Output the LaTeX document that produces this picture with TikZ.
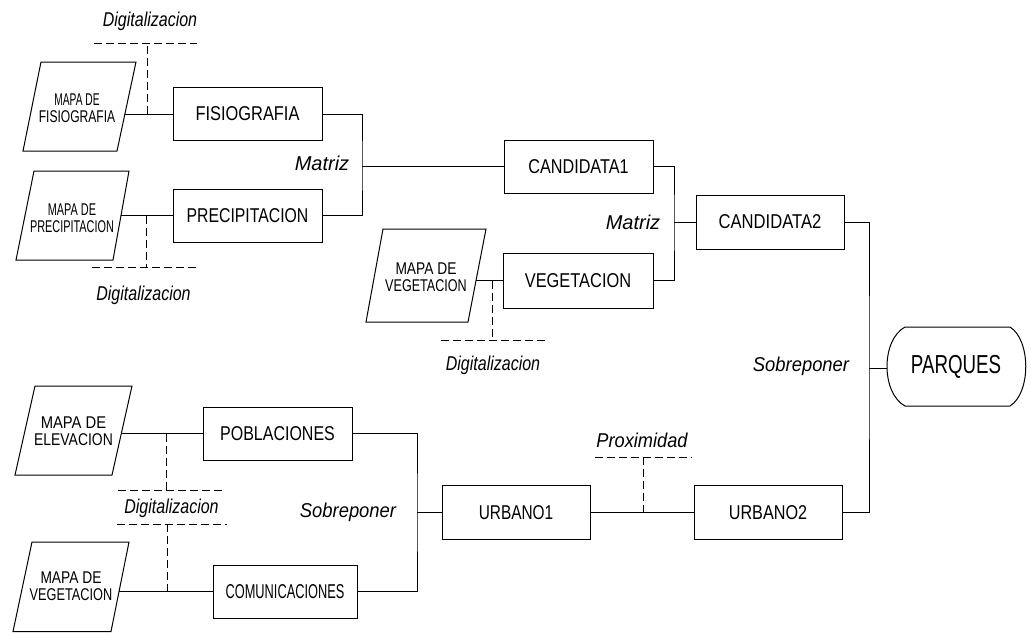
\documentclass[tikz,border=0pt]{standalone}
\usepackage{fontspec}
\setmainfont{Liberation Sans}
\newcommand\sq[2]{\scalebox{#1}[1]{#2}}
\tikzset{
  ln/.style={line width=1pt},
  dsh/.style={line width=1pt, dash pattern=on 8pt off 4pt},
  box/.style={draw, line width=1pt, minimum width=149pt, minimum height=53pt, inner sep=0pt, font=\fontsize{20}{20}\selectfont},
  lbl/.style={font=\fontsize{20}{20}\selectfont\itshape, inner sep=0pt},
  maptxt/.style={align=center, font=\fontsize{17}{17}\selectfont, inner sep=0pt},
}
\begin{document}
\begin{tikzpicture}[x=1pt,y=-1pt]
\useasboundingbox (0,0) rectangle (1031,633);

% ---- input maps (parallelograms) ----
\draw[ln] (41,62) -- (136,62) -- (117,151) -- (23,151) -- cycle;
\node[maptxt] (mapF) at (77,108) {\sq{0.6}{MAPA DE}\\\sq{0.71}{FISIOGRAFIA}};
\coordinate (mapFr) at (124.9,114);

\draw[ln] (34,171) -- (129,171) -- (113,260) -- (16,260) -- cycle;
\node[maptxt] (mapP) at (72,218) {\sq{0.64}{MAPA DE}\\\sq{0.64}{PRECIPITACION}};
\coordinate (mapPr) at (121,215.5);

\draw[ln] (383,229) -- (486,229) -- (468,322) -- (366,322) -- cycle;
\node[maptxt] (mapV) at (426,277.5) {\sq{0.81}{MAPA DE}\\\sq{0.74}{VEGETACION}};
\coordinate (mapVr) at (476,280.5);

\draw[ln] (35,386) -- (132,386) -- (112,475) -- (15,475) -- cycle;
\node[maptxt] (mapE) at (73.5,431.5) {\sq{0.87}{MAPA DE}\\\sq{0.82}{ELEVACION}};
\coordinate (mapEr) at (121.3,433.5);

\draw[ln] (32,542) -- (129,542) -- (111,631.5) -- (13,631.5) -- cycle;
\node[maptxt] (mapV2) at (71,586) {\sq{0.81}{MAPA DE}\\\sq{0.75}{VEGETACION}};
\coordinate (mapV2r) at (119.1,591.5);

% ---- process boxes ----
\node[box] (fis) at (247.5,114) {\sq{0.82}{FISIOGRAFIA}};
\node[box] (pre) at (247.5,215.5) {\sq{0.79}{PRECIPITACION}};
\node[box] (cand1) at (578.5,166.5) {\sq{0.81}{CANDIDATA1}};
\node[box, minimum width=150pt, minimum height=55pt] (veg) at (578,280.5) {\sq{0.82}{VEGETACION}};
\node[box, minimum width=148pt, minimum height=54pt] (cand2) at (770,222) {\sq{0.83}{CANDIDATA2}};
\node[box] (pob) at (277.5,433.5) {\sq{0.8}{POBLACIONES}};
\node[box, minimum width=144pt] (com) at (285,591.5) {\sq{0.64}{COMUNICACIONES}};
\node[box, minimum width=148pt, minimum height=54pt] (urb1) at (516,512.5) {\sq{0.77}{URBANO1}};
\node[box, minimum width=148pt, minimum height=54pt] (urb2) at (768,512.5) {\sq{0.81}{URBANO2}};

% ---- PARQUES terminal ----
\draw[ln] (905,327) -- (1010,327) .. controls (1031,340) and (1031,393) .. (1010,406)
  -- (905,406) .. controls (881,393) and (881,340) .. (905,327);
\node[inner sep=0pt, font=\fontsize{26}{26}\selectfont] (parq) at (956,366.5) {\sq{0.72}{PARQUES}};
\coordinate (parqw) at (887,368);

% ---- map to layer connectors ----
\draw[ln] (mapFr) -- (fis.west);
\draw[ln] (mapPr) -- (pre.west);
\draw[ln] (mapVr) -- (veg.west);
\draw[ln] (mapEr) -- (pob.west);
\draw[ln] (mapV2r) -- (com.west);

% ---- digitalizacion (dashed) ----
\coordinate (dF) at (147,114);
\coordinate (dFt) at (147,43);
\draw[dsh] (dF) -- (dFt);
\draw[dsh] (94,43) -- (197,43);
\node[lbl] (lF) at (150,21) {\sq{0.8}{Digitalizacion}};

\coordinate (dP) at (146,215.5);
\coordinate (dPb) at (146,267);
\draw[dsh] (dP) -- (dPb);
\draw[dsh] (92,267) -- (197,267);
\node[lbl] (lP) at (143.5,295) {\sq{0.8}{Digitalizacion}};

\coordinate (dV) at (492,280.5);
\coordinate (dVb) at (492,340);
\draw[dsh] (dV) -- (dVb);
\draw[dsh] (441,340) -- (545,340);
\node[lbl] (lV) at (493,365) {\sq{0.8}{Digitalizacion}};

\coordinate (dE) at (166,433.5);
\coordinate (dEb) at (166,490);
\draw[dsh] (dE) -- (dEb);
\draw[dsh] (118,490) -- (223,490);
\node[lbl] (lB) at (171.5,508) {\sq{0.8}{Digitalizacion}};
\draw[dsh] (117,524) -- (227,524);
\coordinate (dCt) at (167,524);
\coordinate (dC) at (167,591.5);
\draw[dsh] (dCt) -- (dC);

% ---- Matriz joins ----
\coordinate (j1) at (362,166.5);
\draw[ln] (fis.east) -| (j1) |- (pre.east);
\draw[ln] (j1) -- (cand1.west);
\node[lbl] (m1) at (322,163) {Matriz};

\coordinate (j2) at (674,222);
\draw[ln] (cand1.east) -| (j2) |- (veg.east);
\draw[ln] (j2) -- (cand2.west);
\node[lbl] (m2) at (633,222) {Matriz};

% ---- Sobreponer joins ----
\coordinate (j4) at (417,512.5);
\draw[ln] (pob.east) -| (j4) |- (com.east);
\draw[ln] (j4) -- (urb1.west);
\node[lbl] (s1) at (348,512) {\sq{0.92}{Sobreponer}};

\coordinate (j3) at (869,368);
\draw[ln] (cand2.east) -| (j3) |- (urb2.east);
\draw[ln] (j3) -- (parqw);
\node[lbl] (s2) at (801,366) {\sq{0.92}{Sobreponer}};

% ---- Proximidad ----
\draw[ln] (urb1.east) -- (urb2.west);
\coordinate (pP) at (643,512.5);
\coordinate (pPt) at (643,457);
\draw[dsh] (pP) -- (pPt);
\draw[dsh] (595,457) -- (692,457);
\node[lbl] (lX) at (642,440) {\sq{0.91}{Proximidad}};
\end{tikzpicture}
\end{document}
